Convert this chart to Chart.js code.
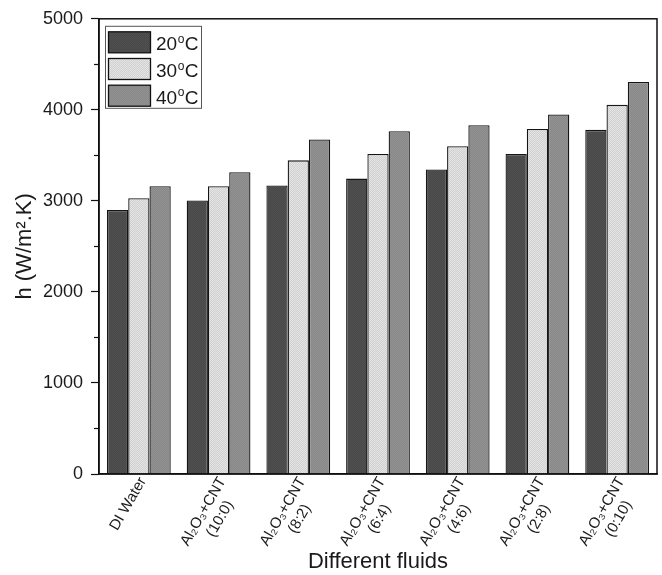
<!DOCTYPE html>
<html><head><meta charset="utf-8">
<script src="https://cdn.jsdelivr.net/npm/chart.js@4"></script>
<style>html,body{margin:0;padding:0;background:#fff}#wrap{width:662px;height:575px}</style>
</head><body><div id="wrap"><canvas id="c" width="662" height="575"></canvas></div>
<script>
const categories = [
  ['DI Water'],
  ['Al\u2082O\u2083+CNT', '(10:0)'],
  ['Al\u2082O\u2083+CNT', '(8:2)'],
  ['Al\u2082O\u2083+CNT', '(6:4)'],
  ['Al\u2082O\u2083+CNT', '(4:6)'],
  ['Al\u2082O\u2083+CNT', '(2:8)'],
  ['Al\u2082O\u2083+CNT', '(0:10)']
];
const seriesLabels = ['20', '30', '40'];
const values20 = [2900, 3005, 3170, 3245, 3345, 3515, 3780];
const values30 = [3030, 3160, 3445, 3515, 3600, 3790, 4055];
const values40 = [3160, 3315, 3675, 3765, 3830, 3950, 4305];
const yTickValues = [0, 1000, 2000, 3000, 4000, 5000];
const yMinorTicks = [500, 1500, 2500, 3500, 4500];

function makePattern(c1, c2) {
  const p = document.createElement('canvas');
  p.width = 2; p.height = 2;
  const g = p.getContext('2d');
  g.fillStyle = c1; g.fillRect(0, 0, 2, 2);
  g.fillStyle = c2; g.fillRect(0, 0, 1, 1); g.fillRect(1, 1, 1, 1);
  return g.createPattern(p, 'repeat');
}
const ctx = document.getElementById('c').getContext('2d');
const fills = [
  makePattern('#484848', '#505050'),
  makePattern('#d0d0d0', '#e4e4e4'),
  makePattern('#878787', '#939393')
];
const FONT = "'Liberation Sans', Arial, sans-serif";
const TXT = '#1a1a1a';
const AREA = { left: 99, right: 657, top: 18, bottom: 474 };
const XFONT = 15;

// center multi-line rotated labels (Chart.js right-aligns them) by trailing spaces
const measureCtx = document.createElement('canvas').getContext('2d');
measureCtx.font = XFONT + 'px ' + FONT;
function centerLines(lines) {
  if (!Array.isArray(lines) || lines.length < 2) return lines;
  const ws = lines.map(l => measureCtx.measureText(l).width);
  const maxW = Math.max(...ws);
  const sp = measureCtx.measureText(' ').width;
  return lines.map((l, i) => l + ' '.repeat(Math.round((maxW - ws[i]) / 2 / sp)));
}

const framePlugin = {
  id: 'frame',
  afterDraw(chart) {
    const c = chart.ctx, a = chart.chartArea;
    c.save();
    c.strokeStyle = '#111'; c.lineWidth = 1.5;
    c.strokeRect(a.left, a.top, a.right - a.left, a.bottom - a.top);
    const ys = chart.scales.y;
    c.lineWidth = 1.2;
    yMinorTicks.forEach(v => {
      const py = Math.round(ys.getPixelForValue(v)) + 0.5;
      c.beginPath(); c.moveTo(a.left - 5, py); c.lineTo(a.left, py); c.stroke();
    });
    // legend
    const bx = a.left + 6, by = a.top + 7, bw = 96, bh = 82;
    c.fillStyle = '#fff';
    c.fillRect(bx, by, bw, bh);
    c.strokeStyle = '#555'; c.lineWidth = 1;
    c.strokeRect(bx + 0.5, by + 0.5, bw, bh);
    chart.data.datasets.forEach((ds, i) => {
      const sy = by + 6 + i * 26.7;
      c.fillStyle = ds.backgroundColor;
      c.fillRect(bx + 3.5, sy, 42, 21);
      c.strokeStyle = '#111'; c.lineWidth = 1.3;
      c.strokeRect(bx + 3.5, sy, 42, 21);
      c.fillStyle = TXT;
      c.textBaseline = 'alphabetic';
      c.textAlign = 'left';
      c.font = '19px ' + FONT;
      let tx = bx + 51;
      const base = sy + 18.5;
      c.fillText(seriesLabels[i], tx, base);
      tx += c.measureText(seriesLabels[i]).width;
      c.font = '12px ' + FONT;
      c.fillText('o', tx + 0.5, base - 7.5);
      tx += c.measureText('o').width + 1;
      c.font = '19px ' + FONT;
      c.fillText('C', tx, base);
    });
    c.restore();
  }
};

new Chart(ctx, {
  type: 'bar',
  data: {
    labels: categories,
    datasets: [
      { label: seriesLabels[0] + '°C', data: values20, backgroundColor: fills[0] },
      { label: seriesLabels[1] + '°C', data: values30, backgroundColor: fills[1] },
      { label: seriesLabels[2] + '°C', data: values40, backgroundColor: fills[2] }
    ].map(d => Object.assign(d, {
      borderColor: '#151515', borderWidth: 1.3,
      categoryPercentage: 0.8, barPercentage: 1.0
    }))
  },
  options: {
    responsive: false,
    animation: false,
    layout: { padding: { top: AREA.top, right: 662 - AREA.right, left: 0, bottom: 0 } },
    plugins: { legend: { display: false }, tooltip: { enabled: false } },
    scales: {
      x: {
        afterFit(s) { s.height = 575 - AREA.bottom; },
        grid: { display: false, drawTicks: false },
        border: { color: '#111', width: 1.5 },
        ticks: {
          maxRotation: 60, minRotation: 60, autoSkip: false,
          font: { family: FONT, size: XFONT, lineHeight: 1.2 }, color: TXT, padding: 0, labelOffset: 4,
          callback(v, i) { return centerLines(categories[i]); }
        },
        title: { display: true, text: 'Different fluids', font: { family: FONT, size: 22 }, color: TXT, padding: { top: 0, bottom: 0 } }
      },
      y: {
        min: 0, max: 5000,
        afterFit(s) { s.width = AREA.left; },
        afterBuildTicks(s) { s.ticks = yTickValues.map(v => ({ value: v })); },
        grid: { drawOnChartArea: false, drawTicks: true, tickLength: 8, color: '#111', tickWidth: 1.2 },
        border: { color: '#111', width: 1.5 },
        ticks: { font: { family: FONT, size: 18 }, color: TXT, padding: 8, callback: v => String(v) },
        title: { display: true, text: 'h (W/m\u00B2.K)', font: { family: FONT, size: 22 }, color: TXT, padding: { top: 12, bottom: 0 } }
      }
    }
  },
  plugins: [framePlugin]
});
</script>
</body></html>
